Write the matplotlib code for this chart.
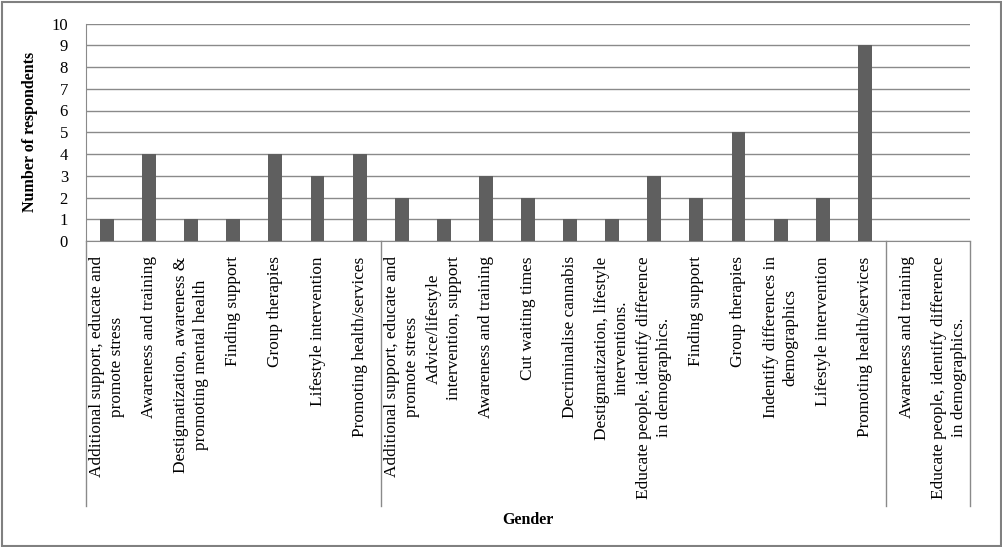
import numpy as np
import matplotlib.pyplot as plt
from matplotlib.patches import Rectangle

plt.rcParams['font.family'] = ['Liberation Serif', 'DejaVu Serif']

# categories per group (the chart has 3 groups separated by vertical lines)
group1 = ['Additional support, educate and\npromote stress',
          'Awareness and training',
          'Destigmatization, awareness &\npromoting mental health',
          'Finding support',
          'Group therapies',
          'Lifestyle intervention',
          'Promoting health/services']
group2 = ['Additional support, educate and\npromote stress',
          'Advice/lifestyle\nintervention, support',
          'Awareness and training',
          'Cut waiting times',
          'Decriminalise cannabis',
          'Destigmatization, lifestyle\ninterventions.',
          'Educate people, identify difference\nin demographics.',
          'Finding support',
          'Group therapies',
          'Indentify differences in\ndemographics',
          'Lifestyle intervention',
          'Promoting health/services']
group3 = ['Awareness and training',
          'Educate people, identify difference\nin demographics.']

values1 = [1, 4, 1, 1, 4, 3, 4]
values2 = [2, 1, 3, 2, 1, 1, 3, 2, 5, 1, 2, 9]
values3 = [0, 0]

labels = group1 + group2 + group3
values = values1 + values2 + values3
x = np.arange(len(labels))

fig = plt.figure(figsize=(10.02, 5.47), dpi=100)
ax = fig.add_axes([86 / 1002, 1 - 241 / 547, (970 - 86) / 1002, (241 - 23.5) / 547])

ax.bar(x, values, width=0.33, color='#5f5f5f', zorder=3)

ax.set_xlim(-0.5, len(labels) - 0.5)
ax.set_ylim(0, 10)
ax.set_yticks(np.arange(0, 11, 1))
ax.yaxis.grid(True, color='#8a8a8a', linewidth=1)
ax.set_axisbelow(True)
ax.tick_params(axis='y', length=0, pad=13, labelsize=12)

ax.set_xticks(x)
ax.set_xticklabels(labels, rotation=90, ha='center', va='top', fontsize=12.4,
                   linespacing=1.3)
ax.tick_params(axis='x', length=0, pad=11)

for side in ['top', 'right']:
    ax.spines[side].set_visible(False)
ax.spines['left'].set_color('#8a8a8a')
ax.spines['bottom'].set_color('#8a8a8a')

# group separator lines through the label area
trans = ax.get_xaxis_transform()
bottom = -(506 - 241) / (241 - 23.5)
seps = [-0.5, len(group1) - 0.5, len(group1) + len(group2) - 0.5, len(labels) - 0.5]
for s in seps:
    ax.plot([s, s], [0, bottom], color='#8a8a8a', linewidth=1,
            transform=trans, clip_on=False)

fig.text(30 / 1002, 1 - 132 / 547, 'Number of respondents', rotation=90,
         ha='center', va='center', fontsize=11.5, fontweight='bold')
fig.text(528 / 1002, 1 - 520 / 547, 'Gender', ha='center', va='center',
         fontsize=11.5, fontweight='bold')

# outer chart border
fig.patches.append(Rectangle((1.5 / 1002, 1.5 / 547), 1 - 3 / 1002, 1 - 3 / 547,
                             transform=fig.transFigure, fill=False,
                             edgecolor='#808080', linewidth=1.5))

fig.savefig('out.png', dpi=100)
